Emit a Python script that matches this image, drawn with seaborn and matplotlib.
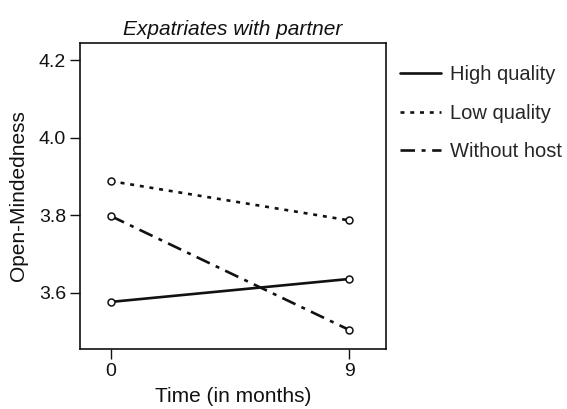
import matplotlib
matplotlib.use("Agg")
import matplotlib.pyplot as plt
import seaborn as sns
import pandas as pd
from matplotlib.lines import Line2D

times = [0, 9]
high_quality = [3.577, 3.636]
low_quality = [3.888, 3.787]
without_host = [3.798, 3.505]
series_names = ["High quality", "Low quality", "Without host"]
y_ticks = [3.6, 3.8, 4.0, 4.2]
x_ticks = [0, 9]

df = pd.DataFrame({
    "Time": times * 3,
    "Value": high_quality + low_quality + without_host,
    "Group": [series_names[0]] * 2 + [series_names[1]] * 2 + [series_names[2]] * 2,
})

sns.set_style("ticks")
plt.rcParams["font.family"] = ["Liberation Sans", "DejaVu Sans"]

fig = plt.figure(figsize=(5.67, 4.09), dpi=100)
ax = fig.add_axes([0.141, 0.147, 0.540, 0.748])

dashes = {"High quality": "", "Low quality": (1.5, 2.2), "Without host": (5.5, 2.5, 1.5, 2.5)}
sns.lineplot(data=df, x="Time", y="Value", hue="Group", style="Group",
             palette=["#111111"] * 3, dashes=dashes, ax=ax, legend=False,
             linewidth=1.9)
for name, vals in zip(series_names, [high_quality, low_quality, without_host]):
    ax.plot(times, vals, linestyle="none", marker="o", markersize=5,
            markerfacecolor="white", markeredgecolor="#111111", markeredgewidth=1.1, zorder=5)

ax.set_xlim(-1.17, 10.4)
ax.set_ylim(3.456, 4.244)
ax.set_xticks(x_ticks)
ax.set_yticks(y_ticks)
ax.set_yticklabels([f"{v:.1f}" for v in y_ticks])
ax.tick_params(direction="out", length=7, width=1.0, labelsize=14, colors="#111111", pad=3)
for s in ax.spines.values():
    s.set_visible(True)
    s.set_linewidth(1.2)
    s.set_color("#111111")
ax.set_xlabel("Time (in months)", fontsize=15, color="#111111", labelpad=5)
ax.set_ylabel("Open-Mindedness", fontsize=15, color="#111111", labelpad=8)
ax.set_title("Expatriates with partner", fontsize=15, style="italic", color="#111111", pad=6)

handles = [
    Line2D([0], [0], color="#111111", linewidth=1.9, linestyle="-"),
    Line2D([0], [0], color="#111111", linewidth=1.9, linestyle=(0, (1.5, 2.2))),
    Line2D([0], [0], color="#111111", linewidth=1.9, linestyle=(0, (5.5, 2.5, 1.5, 2.5))),
]
fig.legend(handles, series_names, loc="upper left", bbox_to_anchor=(0.706, 0.840),
           frameon=False, fontsize=14.5, handlelength=2.0, handletextpad=0.45,
           labelspacing=0.95, borderaxespad=0, borderpad=0)

fig.savefig("out.png", dpi=100)
